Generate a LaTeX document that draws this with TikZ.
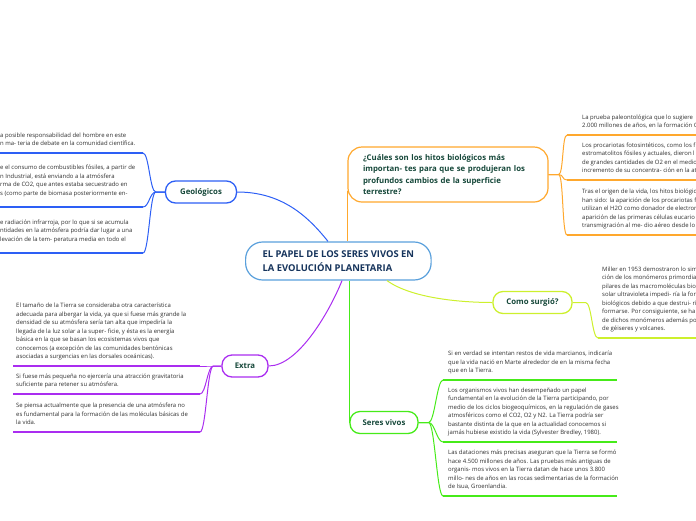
\documentclass[tikz,border=0pt]{standalone}
\usepackage{fontspec}
\setmainfont{Open Sans}
\usetikzlibrary{calc}
\definecolor{mmhub}{RGB}{90,160,220}
\definecolor{mmnavy}{RGB}{22,52,92}
\definecolor{mmdark}{RGB}{22,72,58}
\definecolor{mmtext}{RGB}{45,45,45}
\definecolor{mmblue}{RGB}{45,95,245}
\definecolor{mmpurple}{RGB}{170,45,240}
\definecolor{mmorange}{RGB}{255,168,45}
\definecolor{mmlime}{RGB}{205,240,45}
\definecolor{mmgreen}{RGB}{70,235,25}
\begin{document}
\begin{tikzpicture}[x=1pt,y=-1pt,
  hub/.style={draw=mmhub,line width=1.2pt,rounded corners=17pt,fill=white,
    font=\fontsize{9.4}{14}\selectfont\bfseries,text=mmnavy,align=left,
    inner xsep=17pt,minimum height=38pt},
  topic/.style={draw=#1,line width=1.3pt,rounded corners=10pt,fill=white,
    font=\fontsize{7.8}{9}\selectfont\bfseries,text=mmdark,minimum height=22pt},
  question/.style={draw=mmorange,line width=1.2pt,rounded corners=14pt,fill=white,
    font=\fontsize{7.8}{11.6}\selectfont\bfseries,text=mmdark,align=left,
    text width=170pt,inner xsep=15pt,minimum height=55pt},
  leaf/.style={font=\fontsize{5.95}{8.5}\selectfont,text=mmtext,align=left,
    inner xsep=#1,inner ysep=4.5pt,anchor=south west,execute at end node=\strut},
  uline/.style={draw=#1,line width=1.6pt},
  link/.style={draw=#1,line width=1pt}
]
  \useasboundingbox (0,0) rectangle (696,520);

  % centre
  \node[hub,anchor=west] (hub) at (245,261) {EL PAPEL DE LOS SERES VIVOS EN\\LA EVOLUCIÓN PLANETARIA};

  % Geologicos
  \node[topic=mmblue,minimum width=71pt] (geo) at (201,192) {Geológicos};
  \node[leaf=0pt] (geo1) at (0,153) {a posible responsabilidad del hombre en este\\n ma- teria de debate en la comunidad científica.};
  \node[leaf=0pt,inner ysep=9pt] (geo2) at (0,207) {e el consumo de combustibles fósiles, a partir de\\n Industrial, está enviando a la atmósfera\\rma de CO2, que antes estaba secuestrado en\\s (como parte de biomasa posteriormente en-};
  \node[leaf=0pt,inner ysep=9pt] (geo3) at (0,253) {e radiación infrarroja, por lo que si se acumula\\ntidades en la atmósfera podría dar lugar a una\\levación de la tem- peratura media en todo el};
  \draw[link=mmblue] (geo.east) .. controls +(45,0) and +(-20,-25) .. ($(hub.north west)+(83,0)$);
  \foreach \leafnode in {geo1,geo2,geo3} {
    \draw[uline=mmblue] (\leafnode.south west) -- ++(143,0);
    \draw[link=mmblue] (geo.west) -- ++(-9,0) .. controls +(-6,0) and +(6,0) .. ($(\leafnode.south west)+(143,0)$);
  }

  % Extra
  \node[topic=mmpurple,minimum width=46pt] (extra) at (245,366) {Extra};
  \node[leaf=3pt] (extra1) at (13,366) {El tamaño de la Tierra se consideraba otra característica\\adecuada para albergar la vida, ya que si fuese más grande la\\densidad de su atmósfera sería tan alta que impediría la\\llegada de la luz solar a la super- ficie, y ésta es la energía\\básica en la que se basan los ecosistemas vivos que\\conocemos (a excepción de las comunidades bentónicas\\asociadas a surgencias en las dorsales oceánicas).};
  \node[leaf=3pt] (extra2) at (13,394) {Si fuese más pequeña no ejercería una atracción gravitatoria\\suficiente para retener su atmósfera.};
  \node[leaf=3pt] (extra3) at (13,432) {Se piensa actualmente que la presencia de una atmósfera no\\es fundamental para la formación de las moléculas básicas de\\la vida.};
  \draw[link=mmpurple] (extra.east) .. controls +(30,0) and +(-12,30) .. ($(hub.south west)+(97,0)$);
  \foreach \leafnode in {extra1,extra2,extra3} {
    \draw[uline=mmpurple] (\leafnode.south west) -- ++(187,0);
    \draw[link=mmpurple] (extra.west) -- ++(-8,0) .. controls +(-6,0) and +(6,0) .. ($(\leafnode.south west)+(187,0)$);
  }

  % hitos biologicos
  \node[question] (ask) at (448,174.5) {¿Cuáles son los hitos biológicos más\\importan- tes para que se produjeran los\\profundos cambios de la superficie\\terrestre?};
  \node[leaf=15pt] (ask1) at (567,135) {La prueba paleontológica que lo sugiere\\2.000 millones de años, en la formación G};
  \node[leaf=15pt] (ask2) at (567,180) {Los procariotas fotosintéticos, como los f\\estromatolitos fósiles y actuales, dieron l\\de grandes cantidades de O2 en el medio\\incremento de su concentra- ción en la at};
  \node[leaf=15pt] (ask3) at (567,235) {Tras el origen de la vida, los hitos biológic\\han sido: la aparición de los procariotas f\\utilizan el H2O como donador de electron\\aparición de las primeras células eucario\\transmigración al me- dio aéreo desde lo};
  \draw[link=mmorange] ([yshift=12pt]ask.south west) -- (ask.south west |- hub.north);
  \foreach \leafnode in {ask1,ask2,ask3} {
    \draw[uline=mmorange] (\leafnode.south west) -- ++(135,0);
    \draw[link=mmorange] (ask.east) -- ++(10,0) .. controls +(5,0) and +(-5,0) .. (\leafnode.south west);
  }

  % Como surgio
  \node[topic=mmlime,minimum width=79pt] (como) at (532.5,302.5) {Como surgió?};
  \node[leaf=4pt] (como1) at (598,338) {Miller en 1953 demostraron lo sim\\ción de los monómeros primordia\\pilares de las macromoléculas bio\\solar ultravioleta impedi- ría la for\\biológicos debido a que destrui- ría\\formarse. Por consiguiente, se ha\\de dichos monómeros además po\\de géiseres y volcanes.};
  \draw[link=mmlime] ($(hub.south west)+(142,0)$) .. controls +(25,18) and +(-30,0) .. (como.west);
  \draw[uline=mmlime] (como1.south west) -- ++(100,0);
  \draw[link=mmlime] (como.east) -- ++(13,0) .. controls +(6,0) and +(-6,0) .. (como1.south west);

  % Seres vivos
  \node[topic=mmgreen,minimum width=68pt] (seres) at (384,422.5) {Seres vivos};
  \node[leaf=5pt] (seres1) at (443,380) {Si en verdad se intentan restos de vida marcianos, indicaría\\que la vida nació en Marte alrededor de en la misma fecha\\que en la Tierra.};
  \node[leaf=5pt] (seres2) at (443,442) {Los organismos vivos han desempeñado un papel\\fundamental en la evolución de la Tierra participando, por\\medio de los ciclos biogeoquímicos, en la regulación de gases\\atmosféricos como el CO2, O2 y N2. La Tierra podría ser\\bastante distinta de la que en la actualidad conocemos si\\jamás hubiese existido la vida (Sylvester Bredley, 1980).};
  \node[leaf=5pt] (seres3) at (443,496) {Las dataciones más precisas aseguran que la Tierra se formó\\hace 4.500 millones de años. Las pruebas más antiguas de\\organis- mos vivos en la Tierra datan de hace unos 3.800\\millo- nes de años en las rocas sedimentarias de la formación\\de Isua, Groenlandia.};
  \draw[link=mmgreen] (seres.west |- hub.south) -- (seres.west);
  \foreach \leafnode in {seres1,seres2,seres3} {
    \draw[uline=mmgreen] (\leafnode.south west) -- ++(174,0);
    \draw[link=mmgreen] (seres.east) -- ++(10,0) .. controls +(6,0) and +(-6,0) .. (\leafnode.south west);
  }
\end{tikzpicture}
\end{document}
